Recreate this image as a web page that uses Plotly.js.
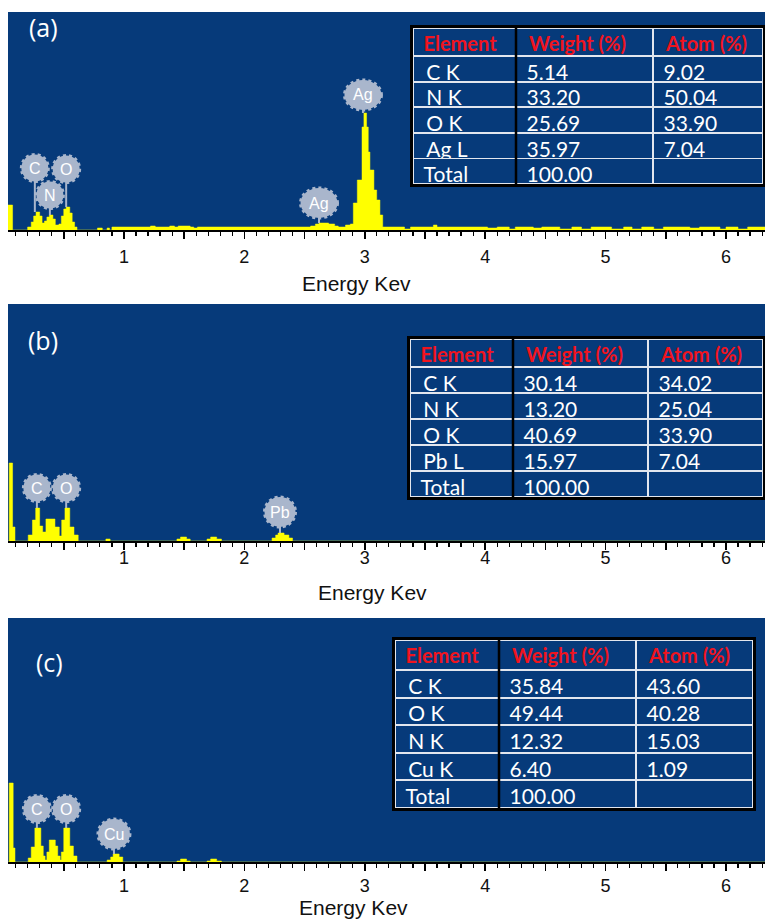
<!DOCTYPE html>
<html>
<head>
<meta charset="utf-8">
<script src="https://cdn.plot.ly/plotly-3.0.1.min.js"></script>
<style>html,body{margin:0;padding:0;background:#fff;} #chart{width:765px;height:922px;}</style>
</head>
<body>
<div id="chart"></div>
<script>
// ---------------- DATA ----------------
// Panel (a) EDS spectrum: step breakpoints (keV) and counts
const energyA = [0.037,0.075,0.20,0.23,0.25,0.27,0.30,0.32,0.34,0.36,0.38,0.41,0.43,0.46,0.48,0.50,0.52,0.55,0.57,0.59,0.61,0.78,0.82,0.86,0.88,0.90,1.22,1.26,1.38,1.42,1.45,1.55,1.58,1.61,2.55,2.59,2.62,2.70,2.75,2.78,2.84,2.88,2.905,2.938,2.977,2.993,3.015,3.029,3.043,3.076,3.099,3.126,3.149,3.33,3.38,3.57,3.60,4.02,4.10,4.20,4.25,4.40,4.47,4.62,4.72,4.80,4.88,5.05,5.15,5.22,5.30,5.40,5.48,5.70,5.78,5.95,6.00,6.10,6.18,6.33];
const countsA = [250,0,30,80,140,180,140,70,90,130,150,110,50,60,140,210,230,170,80,30,0,20,0,20,0,30,40,30,40,30,40,30,20,30,40,60,70,60,40,30,50,60,270,500,1030,1170,1030,780,600,400,300,150,30,10,30,50,30,20,30,10,30,20,30,10,30,10,30,10,30,10,30,10,30,20,30,10,30,10,30,30];
// Panel (b)
const energyB = [0.037,0.047,0.075,0.095,0.205,0.24,0.267,0.30,0.325,0.352,0.427,0.463,0.483,0.51,0.55,0.585,0.62,0.85,0.885,1.44,1.47,1.52,1.55,1.69,1.72,1.77,1.81,2.23,2.26,2.28,2.33,2.37,2.40,6.33];
const countsB = [0,780,140,0,60,210,330,150,90,220,140,50,210,330,140,60,0,20,0,20,40,20,0,20,40,20,0,30,60,80,60,30,0,0];
// Panel (c)
const energyC = [0.037,0.047,0.08,0.095,0.205,0.23,0.26,0.31,0.33,0.345,0.36,0.38,0.43,0.45,0.47,0.48,0.50,0.55,0.58,0.61,0.86,0.89,0.91,0.96,0.99,1.44,1.47,1.52,1.55,1.69,1.72,1.77,1.81,6.33];
const countsC = [0,790,140,0,40,150,340,160,60,20,100,220,160,60,20,100,340,160,60,0,20,50,80,50,0,10,30,10,0,10,30,10,0,0];

// Peak labels: element, energy (keV), peak-top counts
const peakLabelsA = ['C','N','O','Ag','Ag'];
const peakEnergyA = [0.26,0.385,0.52,2.985,2.62];
const peakTopA    = [180,150,230,1170,70];
const peakLabelsB = ['C','O','Pb'];
const peakEnergyB = [0.277,0.52,2.296];
const peakTopB    = [330,330,80];
const peakLabelsC = ['C','O','Cu'];
const peakEnergyC = [0.277,0.52,0.917];
const peakTopC    = [340,340,80];

// Tables
const tableHeader = ['Element','Weight (%)','Atom (%)'];
const elementA = ['C K','N K','O K','Ag L','Total'];
const weightA  = ['5.14','33.20','25.69','35.97','100.00'];
const atomA    = ['9.02','50.04','33.90','7.04',''];
const elementB = ['C K','N K','O K','Pb L','Total'];
const weightB  = ['30.14','13.20','40.69','15.97','100.00'];
const atomB    = ['34.02','25.04','33.90','7.04',''];
const elementC = ['C K','O K','N K','Cu K','Total'];
const weightC  = ['35.84','49.44','12.32','6.40','100.00'];
const atomC    = ['43.60','40.28','15.03','1.09',''];

const tickVals = [0.5,1,1.5,2,2.5,3,3.5,4,4.5,5,5.5,6];
const tickText = ['','1','','2','','3','','4','','5','','6'];
const panelTags = ['(a)','(b)','(c)'];
const axisTitle = 'Energy Kev';

// ---------------- STYLE / LAYOUT ----------------
const W = 765, H = 922, L = 8;
const PW = W - L;
const px2x = x => (x - L) / PW;
const px2y = y => 1 - y / H;
const BLUE = '#063a7a', YELLOW = '#ffff00', BADGE = '#a9b6cc', RED = '#f0141e';

const panels = [
  {E: energyA, C: countsA, top: 12, bottom: 230, yr: 2180, lab: peakLabelsA, le: peakEnergyA, lt: peakTopA,
   lift: [620,350,610,1350,270], bw: [27,27,27,37,37], bh: [27,27,27,30,30], tso: 3,
   title: [356, 283], tag: [43, 27],
   tbl: {x0: 413, s1: 516, s2: 653, x1: 763, y0: 28, hh: 28, rh: 25.6, el: elementA, wt: weightA, at: atomA}},
  {E: energyB, C: countsB, top: 304, bottom: 541, yr: 2370, lab: peakLabelsB, le: peakEnergyB, lt: peakTopB,
   lift: [530,530,290], bw: [27,27,31], bh: [27,27,30], tso: -7,
   title: [372, 592], tag: [43, 340],
   tbl: {x0: 410, s1: 513, s2: 648, x1: 763, y0: 339, hh: 28, rh: 26, el: elementB, wt: weightB, at: atomB}},
  {E: energyC, C: countsC, top: 618, bottom: 862, yr: 2440, lab: peakLabelsC, le: peakEnergyC, lt: peakTopC,
   lift: [530,530,280], bw: [27,27,32], bh: [27,27,30], tso: 0,
   title: [353, 907], tag: [49, 662],
   tbl: {x0: 395, s1: 499, s2: 636, x1: 753, y0: 640, hh: 30, rh: 27.6, el: elementC, wt: weightC, at: atomC}}
];

const data = [], shapes = [], annotations = [];
const layout = {
  width: W, height: H, margin: {l: L, r: 0, t: 0, b: 0, pad: 0},
  paper_bgcolor: '#ffffff', plot_bgcolor: BLUE, showlegend: false
};

panels.forEach((p, i) => {
  const n = i === 0 ? '' : String(i + 1);
  const xa = 'x' + n, ya = 'y' + n;
  layout['xaxis' + n] = {
    domain: [0, 1], anchor: ya, range: [0.037, 6.324],
    tickmode: 'array', tickvals: tickVals, ticktext: tickText,
    ticks: 'outside', ticklen: 7, tickwidth: 1.5, tickcolor: '#000',
    minor: {dtick: 0.1, tick0: 0, ticks: 'outside', ticklen: 4, tickwidth: 1.2, tickcolor: '#000'},
    showline: true, linecolor: '#000', linewidth: 1.5,
    showgrid: false, zeroline: false, fixedrange: true,
    ticklabelstandoff: p.tso,
    tickfont: {family: 'Liberation Sans, Arial, sans-serif', size: 18, color: '#111'}
  };
  layout['yaxis' + n] = {
    domain: [px2y(p.bottom), px2y(p.top)], anchor: xa, range: [0, p.yr],
    visible: false, fixedrange: true
  };
  data.push({
    type: 'scatter', x: p.E, y: p.C, xaxis: xa, yaxis: ya, mode: 'lines',
    line: {shape: 'hv', width: 0.5, color: YELLOW}, fill: 'tozeroy', fillcolor: YELLOW,
    hoverinfo: 'skip'
  });
  // peak badges
  p.lab.forEach((t, k) => {
    shapes.push({type: 'line', xref: xa, yref: ya, x0: p.le[k], x1: p.le[k], y0: p.lt[k], y1: p.lift[k],
      line: {color: BADGE, width: 2}, layer: 'above'});
  });
  p.lab.forEach((t, k) => {
    shapes.push({type: 'circle', xref: xa, yref: ya, xsizemode: 'pixel', ysizemode: 'pixel',
      xanchor: p.le[k], yanchor: p.lift[k], x0: -p.bw[k] / 2, x1: p.bw[k] / 2, y0: -p.bh[k] / 2, y1: p.bh[k] / 2,
      fillcolor: BADGE, line: {color: BADGE, width: 3, dash: 'dot'}, layer: 'above'});
    annotations.push({xref: xa, yref: ya, x: p.le[k], y: p.lift[k], text: t, showarrow: false,
      xanchor: 'center', yanchor: 'middle', font: {family: 'Liberation Sans, Arial, sans-serif', size: 16, color: '#ffffff'}});
  });
  // axis title and panel tag
  annotations.push({xref: 'paper', yref: 'paper', x: px2x(p.title[0]), y: px2y(p.title[1]), text: axisTitle,
    showarrow: false, xanchor: 'center', yanchor: 'middle',
    font: {family: 'Liberation Sans, Arial, sans-serif', size: 21, color: '#111'}});
  annotations.push({xref: 'paper', yref: 'paper', x: px2x(p.tag[0]), y: px2y(p.tag[1]), text: panelTags[i],
    showarrow: false, xanchor: 'center', yanchor: 'middle',
    font: {family: 'Open Sans, sans-serif', size: 25, color: '#ffffff'}});
  // table
  const t = p.tbl;
  const y1 = t.y0 + t.hh + 5 * t.rh;
  const lineStyle = {color: '#e2e6ee', width: 1.8};
  data.push({
    type: 'table', domain: {x: [px2x(t.x0), px2x(t.x1)], y: [px2y(y1 + 1), px2y(t.y0)]},
    columnwidth: [t.s1 - t.x0, t.s2 - t.s1, t.x1 - t.s2],
    header: {values: tableHeader, align: 'left', height: t.hh, fill: {color: BLUE}, line: lineStyle, prefix: '\u2009',
      font: {family: 'Lato, sans-serif', size: 20, color: RED, weight: 700}},
    cells: {values: [t.el, t.wt, t.at], align: 'left', height: t.rh, fill: {color: BLUE}, line: lineStyle, prefix: '\u2009',
      font: {family: 'Lato, sans-serif', size: 21, color: '#ffffff'}}
  });
  // black outer frame and first column separator
  shapes.push({type: 'rect', xref: 'paper', yref: 'paper', x0: px2x(t.x0 - 1.5), x1: px2x(t.x1 + 1.5),
    y0: px2y(y1 + 1.5), y1: px2y(t.y0 - 1.5), line: {color: '#000', width: 3}, layer: 'above'});
  shapes.push({type: 'line', xref: 'paper', yref: 'paper', x0: px2x(t.s1), x1: px2x(t.s1),
    y0: px2y(y1), y1: px2y(t.y0), line: {color: '#000', width: 2.5}, layer: 'above'});
});
layout.shapes = shapes;
layout.annotations = annotations;
Plotly.newPlot('chart', data, layout, {displayModeBar: false, staticPlot: true});
</script>
</body>
</html>
